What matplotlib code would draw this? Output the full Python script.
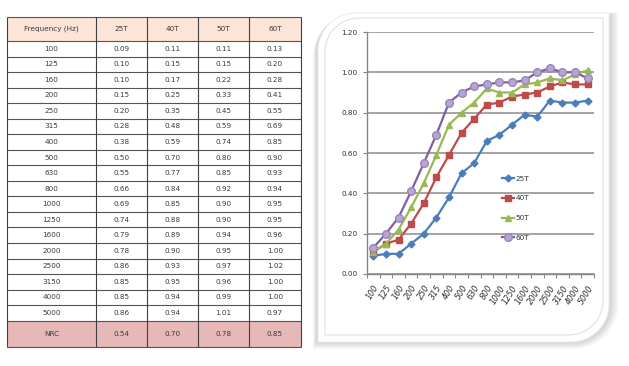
import numpy as np
import matplotlib
matplotlib.use("Agg")
import matplotlib.pyplot as plt
from matplotlib.patches import Rectangle, PathPatch
from matplotlib.path import Path

freqs = ["100", "125", "160", "200", "250", "315", "400", "500", "630", "800",
         "1000", "1250", "1600", "2000", "2500", "3150", "4000", "5000"]
series_names = ["25T", "40T", "50T", "60T"]
v25 = [0.09, 0.10, 0.10, 0.15, 0.20, 0.28, 0.38, 0.50, 0.55, 0.66, 0.69, 0.74, 0.79, 0.78, 0.86, 0.85, 0.85, 0.86]
v40 = [0.11, 0.15, 0.17, 0.25, 0.35, 0.48, 0.59, 0.70, 0.77, 0.84, 0.85, 0.88, 0.89, 0.90, 0.93, 0.95, 0.94, 0.94]
v50 = [0.11, 0.15, 0.22, 0.33, 0.45, 0.59, 0.74, 0.80, 0.85, 0.92, 0.90, 0.90, 0.94, 0.95, 0.97, 0.96, 0.99, 1.01]
v60 = [0.13, 0.20, 0.28, 0.41, 0.55, 0.69, 0.85, 0.90, 0.93, 0.94, 0.95, 0.95, 0.96, 1.00, 1.02, 1.00, 1.00, 0.97]
nrc = [0.54, 0.70, 0.78, 0.85]
yticks = [0.0, 0.2, 0.4, 0.6, 0.8, 1.0, 1.2]

W, H = 629, 366
fig = plt.figure(figsize=(W / 100, H / 100), dpi=100)
bg = fig.add_axes([0, 0, 1, 1])
bg.set_xlim(0, W)
bg.set_ylim(H, 0)
bg.axis("off")

FS = 5.2
tfont = dict(family="DejaVu Sans", fontsize=FS, color="#3a3a3a")

# ---------- table ----------
col_x = [7, 96, 147, 198, 249, 301]
head_top, head_bot = 17, 41
row_h = (320.7 - 41) / len(freqs)
nrc_bot = 346.7

header = ["Frequency (Hz)"] + series_names
data_cols = [v25, v40, v50, v60]

bg.add_patch(Rectangle((col_x[0], head_top), col_x[-1] - col_x[0], head_bot - head_top,
                       facecolor="#fce4d6", edgecolor="none"))
for j, txt in enumerate(header):
    bg.text((col_x[j] + col_x[j + 1]) / 2, (head_top + head_bot) / 2, txt,
            ha="center", va="center", **tfont)
for i, f in enumerate(freqs):
    yc = head_bot + (i + 0.5) * row_h
    bg.text((col_x[0] + col_x[1]) / 2, yc, f, ha="center", va="center", **tfont)
    for j, col in enumerate(data_cols):
        bg.text((col_x[j + 1] + col_x[j + 2]) / 2, yc, f"{col[i]:.2f}",
                ha="center", va="center", **tfont)
nrc_top = head_bot + len(freqs) * row_h
bg.add_patch(Rectangle((col_x[0], nrc_top), col_x[-1] - col_x[0], nrc_bot - nrc_top,
                       facecolor="#e6b8b7", edgecolor="none"))
bg.text((col_x[0] + col_x[1]) / 2, (nrc_top + nrc_bot) / 2, "NRC", ha="center", va="center", **tfont)
for j, v in enumerate(nrc):
    bg.text((col_x[j + 1] + col_x[j + 2]) / 2, (nrc_top + nrc_bot) / 2, f"{v:.2f}",
            ha="center", va="center", **tfont)
hl = [head_top, head_bot] + [head_bot + (i + 1) * row_h for i in range(len(freqs))] + [nrc_bot]
for y in hl:
    bg.plot([col_x[0], col_x[-1]], [y, y], color="#555555", lw=0.8, solid_capstyle="butt")
for xx in col_x:
    bg.plot([xx, xx], [head_top, nrc_bot], color="#404040", lw=0.8, solid_capstyle="butt")


# ---------- chart panel ----------
def diag_round(x0, y0, x1, y1, r):
    t = np.linspace(0, np.pi / 2, 24)
    pts = []
    pts += list(zip(x0 + r - r * np.cos(t), y0 + r - r * np.sin(t)))
    pts += [(x1, y0)]
    pts += list(zip(x1 - r + r * np.cos(t), y1 - r + r * np.sin(t)))
    pts += [(x0, y1)]
    pts.append(pts[0])
    codes = [Path.MOVETO] + [Path.LINETO] * (len(pts) - 2) + [Path.CLOSEPOLY]
    return Path(pts, codes)


for k in range(10):
    d = k * 0.9
    p = diag_round(318 - 2 - d * 0.4, 13 + 1 - d * 0.2, 609 + 2 + d, 342 + 1 + d * 0.8, 38 + d)
    bg.add_patch(PathPatch(p, facecolor="#000000", edgecolor="none", alpha=0.016))
bg.add_patch(PathPatch(diag_round(318, 13, 609, 342, 38), facecolor="white", edgecolor="#ececec", lw=0.6))
bg.add_patch(PathPatch(diag_round(325, 18, 603, 335, 34), facecolor="white", edgecolor="#e0e0e0", lw=0.8))

# ---------- line chart ----------
ax_l, ax_r, ax_t, ax_b = 367, 594, 32, 274
ax = fig.add_axes([ax_l / W, 1 - ax_b / H, (ax_r - ax_l) / W, (ax_b - ax_t) / H])
ax.set_facecolor("none")
x = np.arange(len(freqs))
styles = [
    dict(color="#4a7ebb", marker="D", ms=3.5, mfc="#4a7ebb", mec="#4a7ebb"),
    dict(color="#be4b48", marker="s", ms=4.5, mfc="#be4b48", mec="#be4b48"),
    dict(color="#98b954", marker="^", ms=5, mfc="#98b954", mec="#98b954"),
    dict(color="#7d60a0", marker="o", ms=5.5, mfc="#b7a6d1", mec="#9a84bd"),
]
handles = []
for name, vals, st in zip(series_names, data_cols, styles):
    h, = ax.plot(x, vals, lw=1.6, label=name, **st)
    handles.append(h)
ax.set_xlim(-0.5, len(freqs) - 0.5)
ax.set_ylim(0, 1.2)
ax.set_yticks(yticks)
ax.set_yticklabels([f"{v:.2f}" for v in yticks], fontsize=FS, color="#303030")
ax.set_xticks(x)
ax.set_xticklabels(freqs, fontsize=5.8, color="#303030", rotation=58, ha="right",
                   rotation_mode="anchor", style="italic")
ax.set_xticks(np.arange(len(freqs) + 1) - 0.5, minor=True)
ax.tick_params(axis="x", which="major", length=0, pad=7)
ax.tick_params(axis="x", which="minor", length=3, color="#868686", width=0.8)
ax.tick_params(axis="y", length=3, color="#868686", width=0.8, pad=4)
ax.grid(axis="y", color="#8c8c8c", lw=1.1)
ax.set_axisbelow(True)
for s in ["top", "right"]:
    ax.spines[s].set_visible(False)
for s in ["left", "bottom"]:
    ax.spines[s].set_color("#868686")
    ax.spines[s].set_linewidth(1.0)

leg = fig.legend(handles=handles, loc="upper left", bbox_to_anchor=(498 / W, 1 - 172 / H),
                 frameon=False, fontsize=FS, handlelength=1.7, labelspacing=1.9,
                 handletextpad=0.2, borderpad=0)
for t in leg.get_texts():
    t.set_color("#303030")

fig.savefig("out.png", dpi=100)
